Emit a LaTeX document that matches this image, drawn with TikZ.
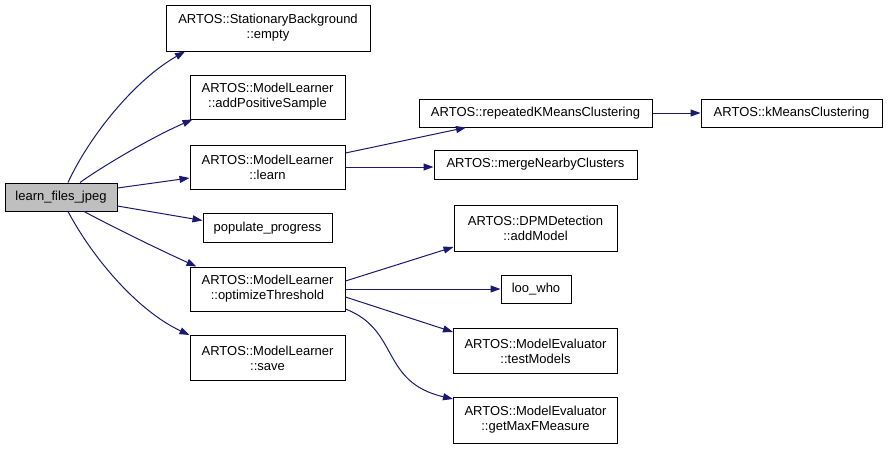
\documentclass[tikz,border=0pt]{standalone}
\usepackage{fontspec}
\setmainfont{Liberation Sans}
\usetikzlibrary{arrows.meta,calc}
\definecolor{edgeblue}{HTML}{191970}
\colorlet{rootgray}{black!25}

\begin{document}
\begin{tikzpicture}[x=1pt,y=-1pt,>={Triangle[length=10pt,width=7pt]},
  fn/.style={draw=black,line width=1pt,fill=white,align=center,inner sep=0pt,
    font=\fontsize{13}{15}\selectfont},
  call/.style={->,draw=edgeblue,line width=1pt}]
\useasboundingbox (0,0) rectangle (888,448);
\node[fn,fill=rootgray,minimum width=112pt,minimum height=28pt] (lfj) at (61,197) {learn\_files\_jpeg};
\node[fn,minimum width=204pt,minimum height=46pt] (sbEmpty) at (268,28) {ARTOS::StationaryBackground\\::empty};
\node[fn,minimum width=155pt,minimum height=44pt] (mlAdd) at (267.5,97) {ARTOS::ModelLearner\\::addPositiveSample};
\node[fn,minimum width=155pt,minimum height=44pt] (mlLearn) at (267.5,167) {ARTOS::ModelLearner\\::learn};
\node[fn,minimum width=129pt,minimum height=29pt] (popProg) at (267.5,228) {populate\_progress};
\node[fn,minimum width=155pt,minimum height=44pt] (mlOpt) at (267.5,289) {ARTOS::ModelLearner\\::optimizeThreshold};
\node[fn,minimum width=155pt,minimum height=45pt] (mlSave) at (267.5,358) {ARTOS::ModelLearner\\::save};
\node[fn,minimum width=233pt,minimum height=28pt] (rkmc) at (535.5,113) {ARTOS::repeatedKMeansClustering};
\node[fn,minimum width=181pt,minimum height=28pt] (kmc) at (791.5,113) {ARTOS::kMeansClustering};
\node[fn,minimum width=203pt,minimum height=29pt] (mnc) at (535.5,164.5) {ARTOS::mergeNearbyClusters};
\node[fn,minimum width=163pt,minimum height=46pt] (dpmAdd) at (535.5,228) {ARTOS::DPMDetection\\::addModel};
\node[fn,minimum width=70pt,minimum height=28pt] (looWho) at (536,289) {loo\_who};
\node[fn,minimum width=164pt,minimum height=45pt] (meTest) at (535.5,351) {ARTOS::ModelEvaluator\\::testModels};
\node[fn,minimum width=164pt,minimum height=46pt] (meMaxF) at (535.5,420) {ARTOS::ModelEvaluator\\::getMaxFMeasure};

\draw[call] ([xshift=7pt]lfj.north) .. controls (90,135) and (135,80) .. ([xshift=-83pt]sbEmpty.south);
\draw[call] ([xshift=19pt]lfj.north) .. controls (100,168) and (150,138) .. ([xshift=3pt]mlAdd.south west);
\draw[call] ([yshift=9pt]lfj.east) -- ([yshift=-11pt]mlLearn.west);
\draw[call] ([yshift=-9pt]lfj.east) -- ([yshift=7.5pt]popProg.west);
\draw[call] ([xshift=23pt]lfj.south) .. controls (115,228) and (160,250) .. ([xshift=7pt]mlOpt.north west);
\draw[call] ([xshift=7pt]lfj.south) .. controls (95,262) and (140,312) .. (mlSave.north west);
\draw[call] ([yshift=14pt]mlLearn.east) -- ([xshift=-69.5pt]rkmc.south);
\draw[call] (mlLearn.east) -- (mlLearn.east -| mnc.west);
\draw[call] (rkmc) -- (kmc);
\draw[call] ([yshift=8pt]mlOpt.east) -- ([yshift=-19pt]dpmAdd.west);
\draw[call] (mlOpt) -- (looWho);
\draw[call] ([yshift=-8pt]mlOpt.east) -- ([yshift=19pt]meTest.west);
\draw[call] ([yshift=-20pt]mlOpt.east) .. controls (400,330) and (380,382) .. ([yshift=21pt]meMaxF.west);
\end{tikzpicture}
\end{document}
